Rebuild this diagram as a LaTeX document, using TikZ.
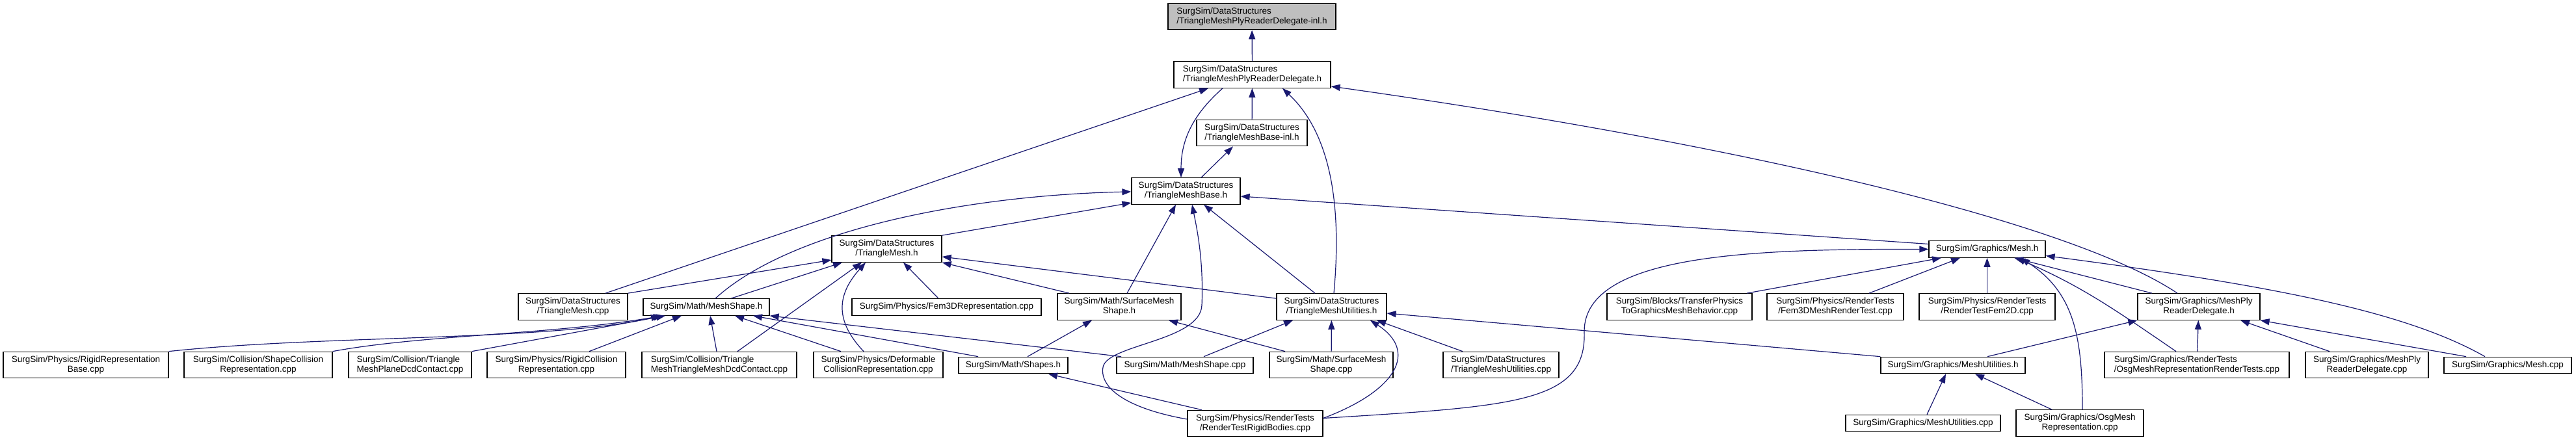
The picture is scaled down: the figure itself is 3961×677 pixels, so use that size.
\documentclass[tikz,border=0pt]{standalone}
\usepackage{fontspec}
\setmainfont{Liberation Sans}
\usetikzlibrary{arrows.meta}
\definecolor{midnight}{RGB}{25,25,112}
\newcommand{\twoline}[2]{%
  \setbox0=\hbox{#1}\setbox2=\hbox{#2}%
  \ifdim\wd0>\wd2 \dimen0=\wd0 \else\dimen0=\wd2 \fi
  \vbox{\hbox to\dimen0{\box0\hfil}\hbox to\dimen0{\hfil\box2\hfil}}}
\begin{document}
\begin{tikzpicture}[
  x=1pt, y=-1pt,
  filebox/.style={draw=black,line width=1.2pt,fill=white,inner sep=0pt,
    minimum height=25.5pt,font=\fontsize{13.5}{15}\selectfont},
  dbl/.style={minimum height=40.5pt},
  boxw/.style={minimum width=#1pt},
  mainbox/.style={filebox,dbl,fill=black!25},
  incl/.style={draw=midnight,line width=1.2pt,-{Triangle[length=14pt,width=10pt]}}
]
  \useasboundingbox (0,0) rectangle (3961,677);

  \node[mainbox,boxw=258] (inl) at (1925,25.5) {\twoline{SurgSim/DataStructures}{/TriangleMeshPlyReaderDelegate-inl.h}};
  \node[filebox,dbl,boxw=241] (plyrd) at (1925.5,115) {\twoline{SurgSim/DataStructures}{/TriangleMeshPlyReaderDelegate.h}};
  \node[filebox,dbl,boxw=170] (baseinl) at (1925,204.5) {\twoline{SurgSim/DataStructures}{/TriangleMeshBase-inl.h}};
  \node[filebox,dbl,boxw=167] (base) at (1823.5,294) {\twoline{SurgSim/DataStructures}{/TriangleMeshBase.h}};
  \node[filebox,dbl,boxw=169] (tmesh) at (1363.5,383) {\twoline{SurgSim/DataStructures}{/TriangleMesh.h}};
  \node[filebox,boxw=179] (gmesh) at (3055.5,383.5) {SurgSim/Graphics/Mesh.h};

  \node[filebox,dbl,boxw=168] (tmeshcpp) at (881,472) {\twoline{SurgSim/DataStructures}{/TriangleMesh.cpp}};
  \node[filebox,boxw=194] (meshshapeh) at (1086,472.5) {SurgSim/Math/MeshShape.h};
  \node[filebox,boxw=291] (fem3drep) at (1455.5,472.5) {SurgSim/Physics/Fem3DRepresentation.cpp};
  \node[filebox,dbl,boxw=190] (surfh) at (1721,472) {\twoline{SurgSim/Math/SurfaceMesh}{Shape.h}};
  \node[filebox,dbl,boxw=169] (tmutilh) at (2047.5,472) {\twoline{SurgSim/DataStructures}{/TriangleMeshUtilities.h}};
  \node[filebox,dbl,boxw=223] (transfer) at (2582.5,472) {\twoline{SurgSim/Blocks/TransferPhysics}{ToGraphicsMeshBehavior.cpp}};
  \node[filebox,dbl,boxw=210] (fem3dmesh) at (2822,472) {\twoline{SurgSim/Physics/RenderTests}{/Fem3DMeshRenderTest.cpp}};
  \node[filebox,dbl,boxw=209] (fem2d) at (3055.5,472) {\twoline{SurgSim/Physics/RenderTests}{/RenderTestFem2D.cpp}};
  \node[filebox,dbl,boxw=188] (meshplyh) at (3381,472) {\twoline{SurgSim/Graphics/MeshPly}{ReaderDelegate.h}};

  \node[filebox,dbl,boxw=254] (rigidbase) at (132,561.5) {\twoline{SurgSim/Physics/RigidRepresentation}{Base.cpp}};
  \node[filebox,dbl,boxw=228] (shapecoll) at (397,561.5) {\twoline{SurgSim/Collision/ShapeCollision}{Representation.cpp}};
  \node[filebox,dbl,boxw=189] (planedcd) at (630.5,561.5) {\twoline{SurgSim/Collision/Triangle}{MeshPlaneDcdContact.cpp}};
  \node[filebox,dbl,boxw=213] (rigidcoll) at (855.5,561.5) {\twoline{SurgSim/Physics/RigidCollision}{Representation.cpp}};
  \node[filebox,dbl,boxw=238] (tmtmdcd) at (1106,561.5) {\twoline{SurgSim/Collision/Triangle}{MeshTriangleMeshDcdContact.cpp}};
  \node[filebox,dbl,boxw=199] (deform) at (1350.5,561.5) {\twoline{SurgSim/Physics/Deformable}{CollisionRepresentation.cpp}};
  \node[filebox,boxw=168] (shapesh) at (1558,562) {SurgSim/Math/Shapes.h};
  \node[filebox,boxw=210] (meshshapecpp) at (1822,562) {SurgSim/Math/MeshShape.cpp};
  \node[filebox,dbl,boxw=190] (surfcpp) at (2047,561.5) {\twoline{SurgSim/Math/SurfaceMesh}{Shape.cpp}};
  \node[filebox,dbl,boxw=178] (tmutilcpp) at (2308,561.5) {\twoline{SurgSim/DataStructures}{/TriangleMeshUtilities.cpp}};
  \node[filebox,boxw=222] (gmeshutilh) at (3003,562) {SurgSim/Graphics/MeshUtilities.h};
  \node[filebox,dbl,boxw=284] (osgrt) at (3378,561.5) {\twoline{SurgSim/Graphics/RenderTests}{/OsgMeshRepresentationRenderTests.cpp}};
  \node[filebox,dbl,boxw=189] (meshplycpp) at (3639.5,561.5) {\twoline{SurgSim/Graphics/MeshPly}{ReaderDelegate.cpp}};
  \node[filebox,boxw=196] (gmeshcpp) at (3856,562) {SurgSim/Graphics/Mesh.cpp};

  \node[filebox,dbl,boxw=208] (rigidbodies) at (1930,651.5) {\twoline{SurgSim/Physics/RenderTests}{/RenderTestRigidBodies.cpp}};
  \node[filebox,boxw=238] (gmeshutilcpp) at (2957,651) {SurgSim/Graphics/MeshUtilities.cpp};
  \node[filebox,dbl,boxw=196] (osgmesh) at (3198,651) {\twoline{SurgSim/Graphics/OsgMesh}{Representation.cpp}};

  % upper part
  \draw[incl] (plyrd) -- (inl);
  \draw[incl] ([xshift=50pt]tmeshcpp.north) -- ([xshift=-67.5pt]plyrd.south);
  \draw[incl] (baseinl) -- (plyrd);
  \draw[incl] ([xshift=3.5pt]tmutilh.north) .. controls (2065,300) and (2040,200) .. ([xshift=46.5pt]plyrd.south);
  \draw[incl] ([xshift=-33pt]meshplyh.north) .. controls (3190,345) and (2700,225) .. ([yshift=3pt]plyrd.south east);
  \draw[incl] ([xshift=-45.5pt]plyrd.south) .. controls (1830,180) and (1816,220) .. ([xshift=-7.5pt]base.north);
  \draw[incl] ([xshift=23.5pt]base.north) -- ([xshift=-29pt]baseinl.south);

  \draw[incl] ([xshift=14pt]meshshapeh.north) .. controls (1220,350) and (1500,300) .. ([yshift=-1pt]base.west);
  \draw[incl] (tmesh.north east) -- ([yshift=-18pt]base.west);
  \draw[incl] ([xshift=12pt]surfh.north) -- ([xshift=-15.5pt]base.south);
  \draw[incl] ([yshift=6.5pt]rigidbodies.west) .. controls (1740,630) and (1690,600) .. (1696,565)
    .. controls (1702,530) and (1845,525) .. (1848,470) .. controls (1851,400) and (1840,350) .. ([xshift=9.5pt]base.south);
  \draw[incl] ([xshift=-25.5pt]tmutilh.north) -- ([xshift=27.5pt]base.south);
  \draw[incl] ([yshift=8pt]gmesh.west) -- ([yshift=-8pt]base.east);

  \draw[incl] (tmeshcpp.north east) -- ([yshift=-17pt]tmesh.west);
  \draw[incl] ([xshift=38pt]meshshapeh.north) -- ([xshift=-68.5pt]tmesh.south);
  \draw[incl] ([xshift=28pt]tmtmdcd.north) -- ([xshift=-38.5pt]tmesh.south);
  \draw[incl] ([xshift=-22.5pt]deform.north) .. controls (1280,490) and (1290,450) .. ([xshift=-32.5pt]tmesh.south);
  \draw[incl] ([xshift=-12.5pt]fem3drep.north) -- ([xshift=25.5pt]tmesh.south);
  \draw[incl] ([xshift=-77pt]surfh.north) -- (tmesh.south east);
  \draw[incl] ([yshift=-8pt]tmutilh.north west) -- ([yshift=-12pt]tmesh.east);

  % mesh shape and utilities
  \draw[incl] (rigidbase.north east) .. controls (500,515) and (850,525) .. ([xshift=-71pt]meshshapeh.south);
  \draw[incl] (shapecoll.north east) .. controls (650,515) and (850,515) .. ([xshift=-67pt]meshshapeh.south);
  \draw[incl] (planedcd.north east) -- ([xshift=-63pt]meshshapeh.south);
  \draw[incl] ([xshift=50.5pt]rigidcoll.north) -- ([xshift=-38pt]meshshapeh.south);
  \draw[incl] ([xshift=-4pt]tmtmdcd.north) -- ([xshift=6pt]meshshapeh.south);
  \draw[incl] ([xshift=-57.5pt]deform.north) -- ([xshift=44pt]meshshapeh.south);
  \draw[incl] ([xshift=-54pt]shapesh.north) -- ([xshift=72pt]meshshapeh.south);
  \draw[incl] ([xshift=-98pt]meshshapecpp.north) -- (meshshapeh.south east);

  \draw[incl] ([xshift=22pt]shapesh.north) -- ([xshift=-42pt]surfh.south);
  \draw[incl] ([xshift=-71pt]surfcpp.north) -- ([xshift=76pt]surfh.south);

  \draw[incl] ([xshift=29pt]meshshapecpp.north) -- ([xshift=-59.5pt]tmutilh.south);
  \draw[incl] (surfcpp) -- (tmutilh);
  \draw[incl] ([yshift=8pt]rigidbodies.east) .. controls (2150,600) and (2180,540) .. ([xshift=59.5pt]tmutilh.south);
  \draw[incl] ([xshift=-59pt]tmutilcpp.north) -- ([xshift=69.5pt]tmutilh.south);
  \draw[incl] (gmeshutilh.north west) -- ([yshift=-10pt]tmutilh.east);

  \draw[incl] ([xshift=-82pt]rigidbodies.north) -- ([xshift=54pt]shapesh.south);

  % graphics mesh
  \draw[incl] ([yshift=8pt]rigidbodies.east) .. controls (2330,625) and (2440,620) .. (2436,510)
    .. controls (2436,390) and (2700,383) .. (gmesh.west);
  \draw[incl] ([xshift=103.5pt]transfer.north) -- ([xshift=-70.5pt]gmesh.south);
  \draw[incl] ([xshift=52pt]fem3dmesh.north) -- ([xshift=-41.5pt]gmesh.south);
  \draw[incl] (fem2d) -- (gmesh);
  \draw[incl] ([xshift=-72pt]meshplyh.north) -- ([xshift=41.5pt]gmesh.south);
  \draw[incl] ([xshift=-32pt]osgrt.north) .. controls (3250,475) and (3200,440) .. ([xshift=44.5pt]gmesh.south);
  \draw[incl] ([xshift=4pt]osgmesh.north) .. controls (3202,520) and (3190,450) .. ([xshift=51.5pt]gmesh.south);
  \draw[incl] ([xshift=-35pt]gmeshcpp.north) .. controls (3700,480) and (3500,440) .. ([yshift=-10pt]gmesh.east);

  \draw[incl] ([xshift=53pt]gmeshutilh.north) -- (meshplyh.south west);
  \draw[incl] (osgrt) -- (meshplyh);
  \draw[incl] ([xshift=-57.5pt]meshplycpp.north) -- ([xshift=64pt]meshplyh.south);
  \draw[incl] ([xshift=-64pt]gmeshcpp.north) -- (meshplyh.south east);

  \draw[incl] ([xshift=6pt]gmeshutilcpp.north) -- ([xshift=-11pt]gmeshutilh.south);
  \draw[incl] ([xshift=-43pt]osgmesh.north) -- ([xshift=34pt]gmeshutilh.south);
\end{tikzpicture}
\end{document}
